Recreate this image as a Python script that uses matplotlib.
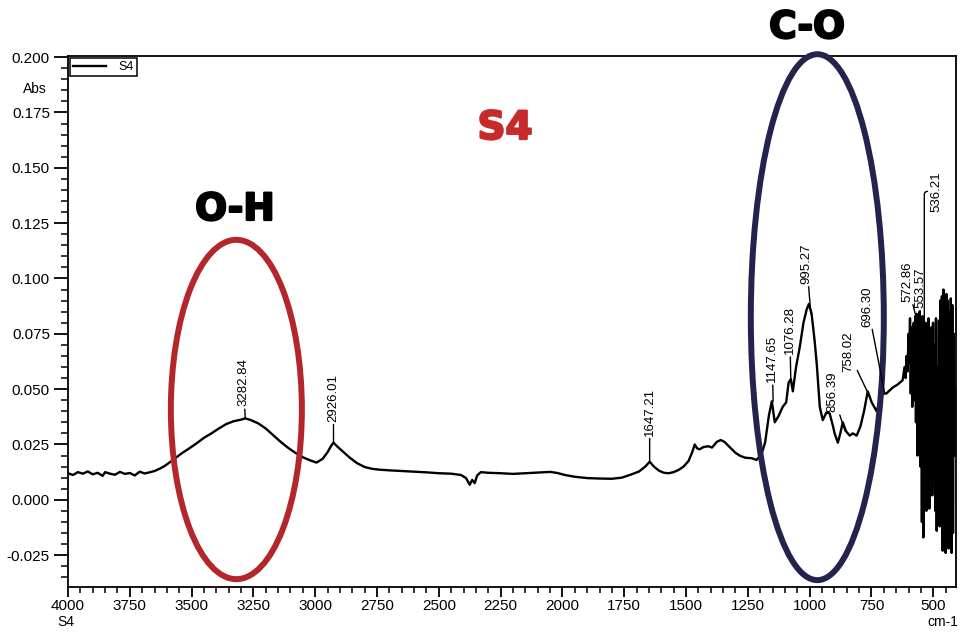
import numpy as np
import matplotlib
matplotlib.use("Agg")
import matplotlib.pyplot as plt
import matplotlib.patheffects as pe
from matplotlib.patches import Ellipse
from matplotlib.ticker import MultipleLocator, FormatStrFormatter

plt.rcParams['font.family'] = ['Liberation Sans', 'DejaVu Sans']

# spectrum (cm-1, Abs)
wavenumber = [
    4000, 3980, 3960, 3940, 3920, 3900, 3880, 3860, 3850, 3830, 3810, 3790,
    3770, 3750, 3730, 3710, 3690, 3670, 3650, 3630, 3610, 3590, 3570, 3540,
    3510, 3480, 3450, 3420, 3390, 3360, 3330, 3300, 3283, 3260, 3230, 3200,
    3170, 3140, 3110, 3080, 3050, 3020, 2995, 2970, 2950, 2935, 2926, 2910,
    2890, 2860, 2830, 2800, 2770, 2740, 2700, 2650, 2600, 2550, 2500, 2450,
    2410, 2390, 2375, 2365, 2355, 2345, 2330, 2300, 2250, 2200, 2150, 2100,
    2050, 2020, 1990, 1950, 1900, 1850, 1800, 1760, 1720, 1690, 1665, 1647,
    1630, 1610, 1590, 1570, 1550, 1530, 1510, 1490, 1475, 1465, 1455, 1445,
    1430, 1410, 1395, 1375, 1360, 1345, 1325, 1300, 1280, 1260, 1235, 1215,
    1195, 1180, 1165, 1153, 1141, 1125, 1109, 1095, 1085, 1076, 1068, 1055,
    1040, 1025, 1012, 1003, 992, 980, 971, 959, 947, 932, 919, 905,
    899, 886, 876, 866, 853, 838, 825, 810, 795, 780, 765, 749,
    729, 715, 704, 690, 664, 645, 624, 616,
    612, 608, 604, 600, 597, 594, 591, 588, 585, 582, 579, 576,
    573, 570, 567, 564, 561, 558, 555, 552, 549, 546, 543, 540,
    537, 534, 531, 528, 525, 522, 519, 516, 513, 510, 507, 504,
    501, 498, 495, 492, 489, 486, 483, 480, 477, 474, 471, 468,
    465, 462, 459, 456, 453, 450, 447, 444, 441, 438, 435, 432,
    429, 426, 423, 420, 417, 414, 412,
]
absorbance = [
    0.0120, 0.0112, 0.0125, 0.0118, 0.0128, 0.0115, 0.0122, 0.0108, 0.0125, 0.0118, 0.0113, 0.0126,
    0.0117, 0.0121, 0.0110, 0.0127, 0.0119, 0.0124, 0.0130, 0.0140, 0.0152, 0.0168, 0.0185, 0.0210,
    0.0232, 0.0255, 0.0280, 0.0300, 0.0322, 0.0342, 0.0355, 0.0362, 0.0368, 0.0360, 0.0345, 0.0322,
    0.0292, 0.0262, 0.0235, 0.0212, 0.0192, 0.0178, 0.0168, 0.0185, 0.0215, 0.0245, 0.0258, 0.0240,
    0.0220, 0.0190, 0.0165, 0.0148, 0.0140, 0.0136, 0.0133, 0.0130, 0.0127, 0.0124, 0.0120, 0.0118,
    0.0112, 0.0098, 0.0068, 0.0090, 0.0075, 0.0110, 0.0125, 0.0122, 0.0120, 0.0117, 0.0120, 0.0123,
    0.0126, 0.0121, 0.0112, 0.0104, 0.0098, 0.0096, 0.0095, 0.0100, 0.0115, 0.0128, 0.0150, 0.0172,
    0.0150, 0.0132, 0.0122, 0.0120, 0.0125, 0.0135, 0.0150, 0.0175, 0.0215, 0.0250, 0.0232, 0.0228,
    0.0238, 0.0242, 0.0236, 0.0262, 0.0270, 0.0262, 0.0240, 0.0212, 0.0198, 0.0190, 0.0188, 0.0180,
    0.0205, 0.0260, 0.0380, 0.0445, 0.0350, 0.0380, 0.0420, 0.0440, 0.0530, 0.0545, 0.0490, 0.0600,
    0.0690, 0.0800, 0.0860, 0.0885, 0.0840, 0.0720, 0.0610, 0.0420, 0.0360, 0.0395, 0.0390, 0.0330,
    0.0300, 0.0258, 0.0300, 0.0350, 0.0310, 0.0290, 0.0300, 0.0290, 0.0330, 0.0400, 0.0490, 0.0440,
    0.0400, 0.0450, 0.0480, 0.0480, 0.0507, 0.0520, 0.0540, 0.0600,
    0.055, 0.065, 0.058, 0.075, 0.062, 0.082, 0.048, 0.078, 0.042, 0.070, 0.080, 0.045,
    0.083, 0.035, 0.084, 0.020, 0.080, 0.030, 0.085, 0.015, 0.078, -0.010, 0.083, -0.017,
    0.075, 0.005, 0.080, -0.005, 0.070, 0.010, 0.082, -0.004, 0.065, 0.025, 0.078, 0.002,
    0.080, 0.015, 0.070, -0.005, 0.082, -0.014, 0.060, 0.005, 0.081, -0.012, 0.090, -0.008,
    0.092, -0.023, 0.095, -0.020, 0.088, -0.024, 0.093, -0.010, 0.090, -0.022, 0.085, 0.000,
    0.091, -0.024, 0.088, -0.015, 0.075, 0.020, 0.050,
]

peak_wn = [3282.84, 2926.01, 1647.21, 1147.65, 1076.28, 995.27, 856.39,
           758.02, 696.30, 572.86, 553.57, 536.21]
peak_text = ["3282.84", "2926.01", "1647.21", "1147.65", "1076.28", "995.27",
             "856.39", "758.02", "696.30", "572.86", "553.57", "536.21"]
# offset of each label from its peak, in pixels (dx, dy)
label_offsets = [(-2, 12), (0, 21), (0, 26), (-1, 19), (-1, 25), (-4, 30),
                 (-13, 19), (-21, 24), (-17, 67), (-8, 12), (0, 4), (12, 111)]

wn = np.array(wavenumber, dtype=float)
ab = np.array(absorbance, dtype=float)

fig = plt.figure(figsize=(9.6, 6.35), dpi=100)
ax = fig.add_axes([68 / 960, 1 - 587 / 635, 888 / 960, 531 / 635])

ax.plot(wn, ab, color="black", lw=1.7, label="S4", zorder=2)

ax.set_xlim(4000, 408)
ax.set_ylim(-0.0394, 0.2005)
ax.xaxis.set_minor_locator(MultipleLocator(50))
ax.yaxis.set_major_locator(MultipleLocator(0.025))
ax.yaxis.set_minor_locator(MultipleLocator(0.005))
ax.yaxis.set_major_formatter(FormatStrFormatter("%.3f"))
ax.set_xticks(np.arange(4000, 499, -250))
ax.tick_params(axis="y", which="major", direction="out", length=10, width=1.3, labelsize=11, pad=3)
ax.tick_params(axis="y", which="minor", direction="out", length=5, width=1.1)
ax.tick_params(axis="x", which="major", direction="out", length=7, width=1.3, labelsize=11, pad=2)
ax.tick_params(axis="x", which="minor", direction="out", length=4, width=1.1)
for s in ax.spines.values():
    s.set_linewidth(1.3)

leg = ax.legend(loc="upper left", fontsize=9, handlelength=2.6, handletextpad=1.0,
                borderpad=0.25, borderaxespad=0.15, fancybox=False,
                edgecolor="black", framealpha=1)
leg.get_frame().set_linewidth(1.1)

# peak labels
for i, (w, txt, (dx, dy)) in enumerate(zip(peak_wn, peak_text, label_offsets)):
    near = np.abs(wn - w) <= 6
    h = ab[near].max() if near.any() else np.interp(w, wn[::-1], ab[::-1])
    conn = "arc3"
    if i == len(peak_wn) - 1:
        conn = "angle,angleA=0,angleB=90,rad=3"
    ax.annotate(txt, xy=(w, h), xytext=(dx * 0.72, dy * 0.72), textcoords="offset points",
                rotation=90, ha="center", va="bottom", fontsize=9.5,
                arrowprops=dict(arrowstyle="-", lw=1.0, color="black",
                                shrinkA=0, shrinkB=0, connectionstyle=conn),
                zorder=4)

# highlighted regions
ax.add_patch(Ellipse((3319, 0.0408), width=530, height=0.1533, fill=False,
                     edgecolor="#b3262b", lw=4.3, clip_on=False, zorder=3))
ax.add_patch(Ellipse((969, 0.0825), width=538, height=0.2376, fill=False,
                     edgecolor="#23234d", lw=4.3, clip_on=False, zorder=3))

heavy = [pe.withStroke(linewidth=1.6, foreground="black")]
fig.text(505 / 960, 1 - 128 / 635, "S4", color="#c62a2a", fontsize=28,
         fontweight="bold", ha="center", va="center", family="DejaVu Sans",
         path_effects=[pe.withStroke(linewidth=1.6, foreground="#c62a2a")])
fig.text(235 / 960, 1 - 210 / 635, "O-H", color="black", fontsize=27,
         fontweight="bold", ha="center", va="center", family="DejaVu Sans",
         path_effects=heavy)
fig.text(807 / 960, 1 - 28 / 635, "C-O", color="black", fontsize=27,
         fontweight="bold", ha="center", va="center", family="DejaVu Sans",
         path_effects=heavy)

fig.text(47 / 960, 1 - 89 / 635, "Abs", fontsize=10, ha="right", va="center")
fig.text(57 / 960, 1 - 622 / 635, "S4", fontsize=10, ha="left", va="center")
fig.text(958 / 960, 1 - 622 / 635, "cm-1", fontsize=10, ha="right", va="center")

fig.savefig("out.png", dpi=100)
